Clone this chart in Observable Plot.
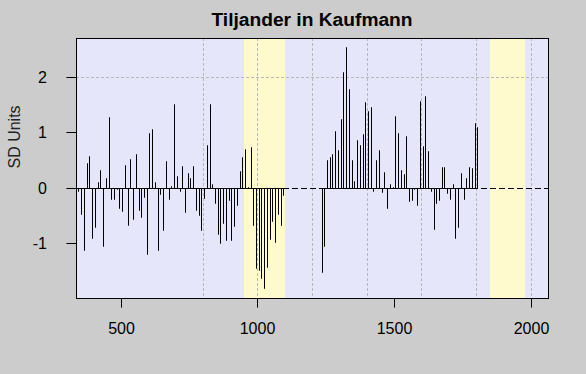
<!DOCTYPE html>
<html>
<head>
<meta charset="utf-8">
<script src="https://cdn.jsdelivr.net/npm/d3@7"></script>
<script src="https://cdn.jsdelivr.net/npm/@observablehq/plot@0.6"></script>
<style>
  html, body { margin: 0; padding: 0; background: #cccccc; }
  #wrap { position: relative; width: 586px; height: 374px; background: #cccccc; overflow: hidden; }
  #title { position: absolute; left: 0; top: 10px; width: 624px; text-align: center;
           font-family: "Liberation Sans", Arial, sans-serif; font-weight: bold; font-size: 19.2px;
           line-height: 19.2px; color: #000; }
  svg { display: block; }
</style>
</head>
<body>
<div id="wrap"><div id="title">Tiljander in Kaufmann</div></div>
<script>
// Decadal values (SD units), first segment
const years1 = [335,345,355,365,375,385,395,405,415,425,
  435,445,455,465,475,485,495,505,515,525,
  535,545,555,565,575,585,595,605,615,625,
  635,645,655,665,675,685,695,705,715,725,
  735,745,755,765,775,785,795,805,815,825,
  835,845,855,865,875,885,895,905,915,925,
  935,945,955,965,975,985,995,1005,1015,1025,
  1035,1045,1055,1065,1075,1085,1095];
const values1 = [-0.05,-0.06,-0.48,-1.12,0.44,0.57,-0.91,-0.71,0.10,0.32,
  -1.06,0.17,1.28,-0.21,-0.21,-0.03,-0.36,-0.42,0.42,-0.67,
  0.52,-0.57,0.61,-0.41,-0.52,-0.17,-1.19,0.99,1.06,0.11,
  -1.12,-0.12,-0.76,0.48,-0.20,0.04,1.52,0.22,-0.06,0.40,
  -0.44,0.27,0.17,0.40,-0.41,-0.50,-0.77,-0.19,0.77,1.52,
  0.07,-0.27,-0.83,-1.00,-0.64,-0.95,-0.23,-0.95,-0.70,-0.32,
  0.30,0.55,0.70,0.02,0.73,-0.68,-1.45,-1.48,-1.64,-1.82,
  -1.44,-0.92,-0.61,-0.99,-0.48,-0.68,-0.13];
// second segment (after the gap)
const years2 = [1235,1245,1255,1265,1275,1285,1295,1305,1315,1325,
  1335,1345,1355,1365,1375,1385,1395,1405,1415,1425,
  1435,1445,1455,1465,1475,1485,1495,1505,1515,1525,
  1535,1545,1555,1565,1575,1585,1595,1605,1615,1625,
  1635,1645,1655,1665,1675,1685,1695,1705,1715,1725,
  1735,1745,1755,1765,1775,1785,1795,1805];
const values2 = [-1.53,-1.06,0.50,0.55,0.61,1.02,0.69,1.24,2.10,2.54,
  1.79,0.50,0.13,0.87,0.77,0.97,1.55,1.39,1.46,-0.06,
  0.51,0.69,-0.08,0.28,-0.37,0.07,0.02,1.30,0.99,0.32,
  0.24,0.93,-0.24,-0.22,-0.03,-0.32,1.57,0.75,1.66,0.66,
  -0.06,-0.75,-0.27,-0.22,0.37,0.37,-0.09,-0.21,0.07,-0.91,
  -0.71,0.26,-0.20,0.18,0.37,0.35,1.17,1.10];

const bandStart = [950, 1850];
const bandEnd = [1100, 1980];
const gridYears = [800, 1000, 1200, 1400, 1600, 1800, 2000];
const gridLevels = [2];
const xTicks = [500, 1000, 1500, 2000];
const yTicks = [-1, 0, 1, 2];

// spike path: (x,0) -> (x,v) -> (x,0) for each decade, per segment
const spikes = [];
[[years1, values1, 1], [years2, values2, 2]].forEach(([ys, vs, seg]) => {
  ys.forEach((yr, i) => {
    spikes.push({x: yr, y: 0, seg});
    spikes.push({x: yr, y: vs[i], seg});
    spikes.push({x: yr, y: 0, seg});
  });
});
const bands = bandStart.map((s, i) => ({start: s, end: bandEnd[i]}));

const chart = Plot.plot({
  width: 586,
  height: 374,
  marginLeft: 76,
  marginRight: 38,
  marginTop: 38,
  marginBottom: 76,
  x: {domain: [336, 2064], round: true},
  y: {domain: [-1.994, 2.709], round: true},
  style: {background: "transparent", color: "black", fontFamily: "'Liberation Sans', Arial, sans-serif", fontSize: "16px"},
  marks: [
    Plot.frame({fill: "#E6E6FA", stroke: "none"}),
    Plot.rect(bands, {x1: "start", x2: "end", fill: "#FFFACD"}),
    Plot.ruleX(gridYears, {stroke: "#b8b8b8", strokeDasharray: "3,2"}),
    Plot.ruleY(gridLevels, {stroke: "#b8b8b8", strokeDasharray: "3,2"}),
    Plot.ruleY([0], {stroke: "black", strokeDasharray: "6,3"}),
    Plot.line(spikes, {x: "x", y: "y", z: "seg", stroke: "black", strokeWidth: 1,
      strokeLinecap: "butt", strokeLinejoin: "miter", clip: true}),
    Plot.frame({stroke: "black", strokeWidth: 1}),
    Plot.axisX({ticks: xTicks, tickSize: 9.6, tickPadding: 15, tickFormat: d => String(d),
      label: null, fontSize: 16}),
    Plot.axisY({ticks: yTicks, tickSize: 9.6, tickPadding: 20, tickFormat: d => String(d),
      label: null, fontSize: 16}),
    Plot.text(["SD Units"], {frameAnchor: "left", dx: -62, rotate: -90, fontSize: 16, fill: "#222"})
  ]
});
document.getElementById("wrap").appendChild(chart);
</script>
</body>
</html>
